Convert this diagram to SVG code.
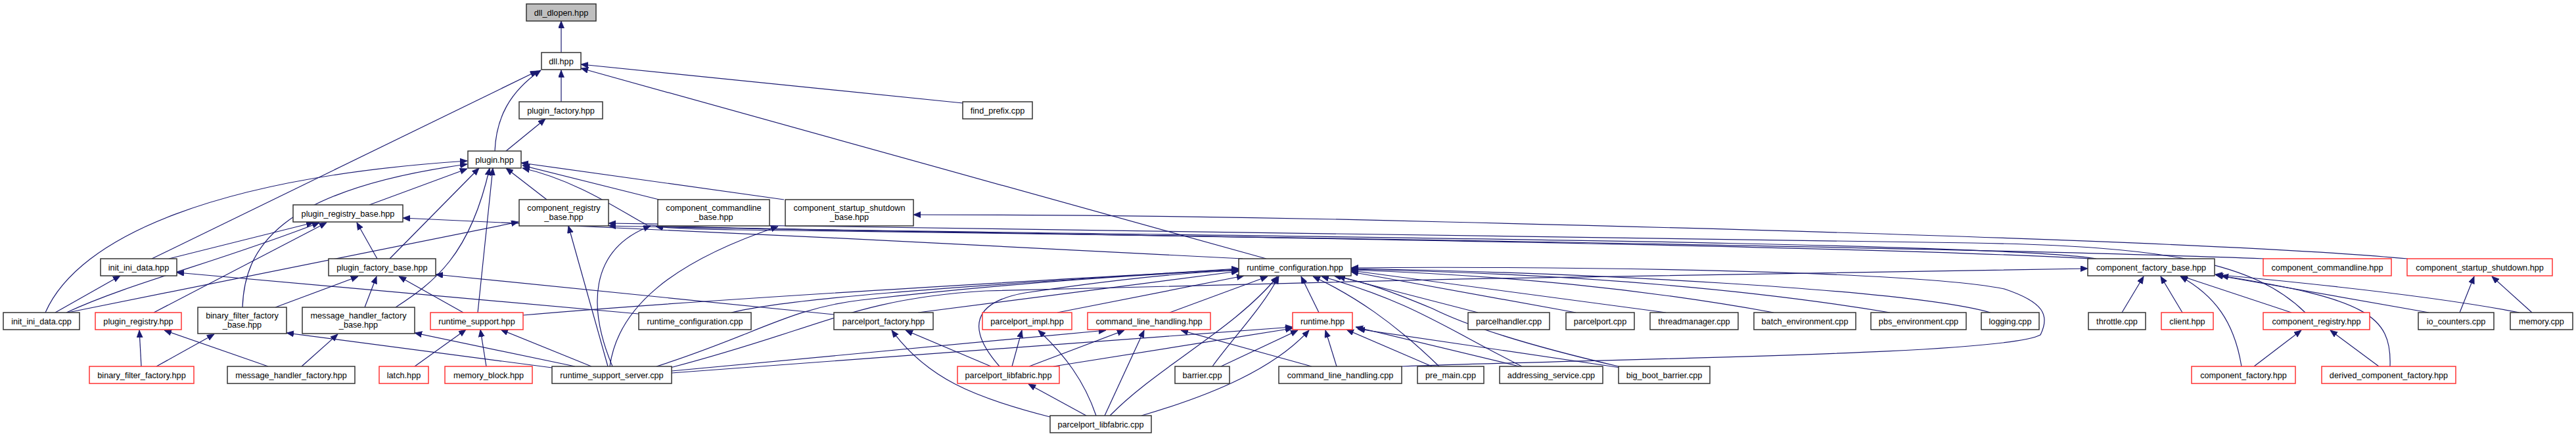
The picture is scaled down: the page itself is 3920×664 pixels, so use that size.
<svg xmlns="http://www.w3.org/2000/svg" width="3920" height="664" viewBox="0 0 3920 664">
<style>
.node rect{fill:#fff;stroke:#333;stroke-width:1.5}
.node.red rect{stroke:#f33}
.node.root rect{fill:#bfbfbf}
.node text{font-family:"Liberation Sans",Arial,sans-serif;font-size:12.7px;fill:#000;text-anchor:middle}
#edges path{fill:none;stroke:#191970;stroke-width:1.2;marker-end:url(#ah)}
</style>
<defs>
<marker id="ah" markerUnits="userSpaceOnUse" markerWidth="13" markerHeight="11" refX="11" refY="4.5" orient="auto">
<path d="M0,0 L11,4.5 L0,9 z" fill="#191970" stroke="#191970" stroke-width="0.8"/>
</marker>
</defs>
<rect width="3920" height="664" fill="#fff"/>
<g id="edges">
<path d="M854,80 L854,32"/>
<path d="M854,155 L854,107"/>
<path d="M753,230 C755,180 775,140 823,107"/>
<path d="M231,394 L818,108"/>
<path d="M1465,157 L884,98"/>
<path d="M1927,394 L884,104"/>
<path d="M770,230 L830,181"/>
<path d="M69,476 C120,360 330,270 711,245"/>
<path d="M369,468 C372,380 420,290 711,250"/>
<path d="M562,312 L711,257"/>
<path d="M593,394 L729,256"/>
<path d="M602,468 C660,430 715,390 745,256"/>
<path d="M727,476 L750,256"/>
<path d="M832,304 L770,256"/>
<path d="M1003,304 L795,252"/>
<path d="M1193,304 L793,248"/>
<path d="M3190,394 C3000,362 1200,356 985,343 C950,325 880,275 795,256"/>
<path d="M257,394 L477,339"/>
<path d="M101,476 C200,430 330,400 486,339"/>
<path d="M234,476 L497,339"/>
<path d="M574,394 L543,339"/>
<path d="M1891,394 C1500,372 1000,350 613,332"/>
<path d="M84,476 L183,420"/>
<path d="M972,478 L269,415"/>
<path d="M1269,479 L663,418"/>
<path d="M419,468 L545,421"/>
<path d="M555,468 L573,421"/>
<path d="M705,476 L607,421"/>
<path d="M103,476 L789,338"/>
<path d="M215,558 L212,503"/>
<path d="M238,558 L326,509"/>
<path d="M408,558 L250,503"/>
<path d="M459,558 L514,509"/>
<path d="M840,560 L436,507"/>
<path d="M875,558 L631,507"/>
<path d="M631,558 L709,502"/>
<path d="M740,558 L731,502"/>
<path d="M900,558 L762,502"/>
<path d="M925,558 L865,344"/>
<path d="M932,558 C895,470 895,380 990,344"/>
<path d="M928,558 C940,470 1020,400 1184,345"/>
<path d="M999,558 C1150,510 1200,470 1310,457 C1500,435 1700,420 1885,411"/>
<path d="M1020,560 C1250,500 1300,455 1500,443 C2000,428 2800,412 3177,409"/>
<path d="M1022,565 L1683,503"/>
<path d="M1022,568 L1967,498"/>
<path d="M1397,476 L1885,413"/>
<path d="M1609,476 L1893,420"/>
<path d="M1780,476 L1929,421"/>
<path d="M1113,476 C1200,455 1400,440 1885,409"/>
<path d="M796,480 C1000,462 1400,437 1885,410"/>
<path d="M1521,558 C1470,500 1480,460 1560,446 C1700,425 1800,415 1885,412"/>
<path d="M1508,558 L1378,503"/>
<path d="M1540,558 L1555,503"/>
<path d="M1566,558 L1711,503"/>
<path d="M1603,558 L1967,500"/>
<path d="M1598,635 C1480,605 1410,575 1357,503"/>
<path d="M1653,633 L1565,585"/>
<path d="M1668,633 C1650,580 1620,540 1580,503"/>
<path d="M1681,633 L1741,503"/>
<path d="M1689,633 C1760,560 1880,500 1944,421"/>
<path d="M1737,633 C1850,600 1940,560 1992,503"/>
<path d="M1845,558 C1880,510 1920,470 1946,421"/>
<path d="M1858,558 L1975,503"/>
<path d="M1996,558 L1797,503"/>
<path d="M2034,558 L2017,503"/>
<path d="M2133,558 C2500,545 3050,540 3105,510 C3120,480 3110,460 3050,440 C2900,410 2300,405 2056,408"/>
<path d="M2179,558 L2049,502"/>
<path d="M2190,558 C2120,490 2060,450 1998,421"/>
<path d="M2312,558 L2063,498"/>
<path d="M2316,558 C2200,500 2150,460 2011,421"/>
<path d="M2463,558 C2300,520 2220,490 2180,470 C2120,445 2080,430 2030,420"/>
<path d="M2466,560 L2066,501"/>
<path d="M2007,476 L1980,421"/>
<path d="M2249,476 L2036,421"/>
<path d="M2398,476 L2056,414"/>
<path d="M2535,476 L2056,412"/>
<path d="M2699,476 C2500,440 2300,420 2056,411"/>
<path d="M2876,476 C2600,430 2300,415 2056,410"/>
<path d="M3029,476 C2900,440 2400,415 2056,409"/>
<path d="M3229,476 L3262,421"/>
<path d="M3321,476 L3288,421"/>
<path d="M3487,476 L3318,420"/>
<path d="M3411,558 C3400,490 3370,450 3318,421"/>
<path d="M3696,476 L3372,419"/>
<path d="M3834,476 C3700,450 3500,430 3371,418"/>
<path d="M3637,558 C3640,480 3600,455 3380,420"/>
<path d="M3430,558 L3502,503"/>
<path d="M3620,558 L3546,503"/>
<path d="M3743,476 L3765,421"/>
<path d="M3853,476 L3792,421"/>
<path d="M3508,476 C3430,400 3300,375 3000,370 C2000,360 1200,350 926,340"/>
<path d="M3445,394 C3000,376 1600,356 1120,350 C1060,349 1020,348 998,345"/>
<path d="M3664,394 C3400,370 2700,350 2200,338 C1900,330 1600,327 1390,327"/>
<path d="M3180,394 C2800,372 1500,356 926,344"/>
</g>
<g id="n_dll_dlopen" class="node root"><rect x="801" y="6" width="106" height="26"/><text x="854" y="23.5">dll_dlopen.hpp</text></g>
<g id="n_dll" class="node"><rect x="824" y="80" width="60" height="26"/><text x="854" y="97.5">dll.hpp</text></g>
<g id="n_plugin_factory" class="node"><rect x="790" y="155" width="127" height="26"/><text x="853.5" y="172.5">plugin_factory.hpp</text></g>
<g id="n_find_prefix" class="node"><rect x="1465" y="155" width="106" height="26"/><text x="1518" y="172.5">find_prefix.cpp</text></g>
<g id="n_plugin" class="node"><rect x="712" y="230" width="81" height="26"/><text x="752.5" y="247.5">plugin.hpp</text></g>
<g id="n_plugin_registry_base" class="node"><rect x="446" y="312" width="167" height="26"/><text x="529.5" y="329.5">plugin_registry_base.hpp</text></g>
<g id="n_component_registry_base" class="node"><rect x="790" y="304" width="136" height="40"/><text x="858" y="320.5">component_registry</text><text x="858" y="334.5">_base.hpp</text></g>
<g id="n_component_commandline_base" class="node"><rect x="1001" y="304" width="170" height="40"/><text x="1086" y="320.5">component_commandline</text><text x="1086" y="334.5">_base.hpp</text></g>
<g id="n_component_startup_shutdown_base" class="node"><rect x="1195" y="304" width="195" height="40"/><text x="1292.5" y="320.5">component_startup_shutdown</text><text x="1292.5" y="334.5">_base.hpp</text></g>
<g id="n_init_ini_data_hpp" class="node"><rect x="153" y="394" width="116" height="26"/><text x="211" y="411.5">init_ini_data.hpp</text></g>
<g id="n_plugin_factory_base" class="node"><rect x="500" y="394" width="163" height="26"/><text x="581.5" y="411.5">plugin_factory_base.hpp</text></g>
<g id="n_runtime_configuration_hpp" class="node"><rect x="1885" y="394" width="171" height="26"/><text x="1970.5" y="411.5">runtime_configuration.hpp</text></g>
<g id="n_component_factory_base" class="node"><rect x="3177" y="394" width="193" height="26"/><text x="3273.5" y="411.5">component_factory_base.hpp</text></g>
<g id="n_component_commandline" class="node red"><rect x="3444" y="394" width="195" height="26"/><text x="3541.5" y="411.5">component_commandline.hpp</text></g>
<g id="n_component_startup_shutdown" class="node red"><rect x="3663" y="394" width="221" height="26"/><text x="3773.5" y="411.5">component_startup_shutdown.hpp</text></g>
<g id="n_init_ini_data_cpp" class="node"><rect x="5" y="476" width="116" height="26"/><text x="63" y="493.5">init_ini_data.cpp</text></g>
<g id="n_plugin_registry" class="node red"><rect x="145" y="476" width="131" height="26"/><text x="210.5" y="493.5">plugin_registry.hpp</text></g>
<g id="n_binary_filter_factory_base" class="node"><rect x="301" y="468" width="135" height="40"/><text x="368.5" y="484.5">binary_filter_factory</text><text x="368.5" y="498.5">_base.hpp</text></g>
<g id="n_message_handler_factory_base" class="node"><rect x="460" y="468" width="171" height="40"/><text x="545.5" y="484.5">message_handler_factory</text><text x="545.5" y="498.5">_base.hpp</text></g>
<g id="n_runtime_support" class="node red"><rect x="655" y="476" width="141" height="26"/><text x="725.5" y="493.5">runtime_support.hpp</text></g>
<g id="n_runtime_configuration_cpp" class="node"><rect x="972" y="476" width="171" height="26"/><text x="1057.5" y="493.5">runtime_configuration.cpp</text></g>
<g id="n_parcelport_factory" class="node"><rect x="1269" y="476" width="151" height="26"/><text x="1344.5" y="493.5">parcelport_factory.hpp</text></g>
<g id="n_parcelport_impl" class="node red"><rect x="1495" y="476" width="136" height="26"/><text x="1563" y="493.5">parcelport_impl.hpp</text></g>
<g id="n_command_line_handling_hpp" class="node red"><rect x="1655" y="476" width="187" height="26"/><text x="1748.5" y="493.5">command_line_handling.hpp</text></g>
<g id="n_runtime" class="node red"><rect x="1967" y="476" width="91" height="26"/><text x="2012.5" y="493.5">runtime.hpp</text></g>
<g id="n_parcelhandler" class="node"><rect x="2234" y="476" width="124" height="26"/><text x="2296" y="493.5">parcelhandler.cpp</text></g>
<g id="n_parcelport" class="node"><rect x="2383" y="476" width="104" height="26"/><text x="2435" y="493.5">parcelport.cpp</text></g>
<g id="n_threadmanager" class="node"><rect x="2511" y="476" width="134" height="26"/><text x="2578" y="493.5">threadmanager.cpp</text></g>
<g id="n_batch_environment" class="node"><rect x="2669" y="476" width="155" height="26"/><text x="2746.5" y="493.5">batch_environment.cpp</text></g>
<g id="n_pbs_environment" class="node"><rect x="2847" y="476" width="145" height="26"/><text x="2919.5" y="493.5">pbs_environment.cpp</text></g>
<g id="n_logging" class="node"><rect x="3015" y="476" width="88" height="26"/><text x="3059" y="493.5">logging.cpp</text></g>
<g id="n_throttle" class="node"><rect x="3178" y="476" width="87" height="26"/><text x="3221.5" y="493.5">throttle.cpp</text></g>
<g id="n_client" class="node red"><rect x="3289" y="476" width="79" height="26"/><text x="3328.5" y="493.5">client.hpp</text></g>
<g id="n_component_registry" class="node red"><rect x="3444" y="476" width="162" height="26"/><text x="3525" y="493.5">component_registry.hpp</text></g>
<g id="n_io_counters" class="node"><rect x="3680" y="476" width="115" height="26"/><text x="3737.5" y="493.5">io_counters.cpp</text></g>
<g id="n_memory_cpp" class="node"><rect x="3820" y="476" width="95" height="26"/><text x="3867.5" y="493.5">memory.cpp</text></g>
<g id="n_binary_filter_factory" class="node red"><rect x="136" y="558" width="159" height="26"/><text x="215.5" y="575.5">binary_filter_factory.hpp</text></g>
<g id="n_message_handler_factory" class="node"><rect x="346" y="558" width="194" height="26"/><text x="443" y="575.5">message_handler_factory.hpp</text></g>
<g id="n_latch" class="node red"><rect x="577" y="558" width="75" height="26"/><text x="614.5" y="575.5">latch.hpp</text></g>
<g id="n_memory_block" class="node red"><rect x="677" y="558" width="133" height="26"/><text x="743.5" y="575.5">memory_block.hpp</text></g>
<g id="n_runtime_support_server" class="node"><rect x="840" y="558" width="182" height="26"/><text x="931" y="575.5">runtime_support_server.cpp</text></g>
<g id="n_parcelport_libfabric_hpp" class="node red"><rect x="1457" y="558" width="155" height="26"/><text x="1534.5" y="575.5">parcelport_libfabric.hpp</text></g>
<g id="n_barrier" class="node"><rect x="1788" y="558" width="83" height="26"/><text x="1829.5" y="575.5">barrier.cpp</text></g>
<g id="n_command_line_handling_cpp" class="node"><rect x="1946" y="558" width="187" height="26"/><text x="2039.5" y="575.5">command_line_handling.cpp</text></g>
<g id="n_pre_main" class="node"><rect x="2157" y="558" width="101" height="26"/><text x="2207.5" y="575.5">pre_main.cpp</text></g>
<g id="n_addressing_service" class="node"><rect x="2282" y="558" width="157" height="26"/><text x="2360.5" y="575.5">addressing_service.cpp</text></g>
<g id="n_big_boot_barrier" class="node"><rect x="2463" y="558" width="139" height="26"/><text x="2532.5" y="575.5">big_boot_barrier.cpp</text></g>
<g id="n_component_factory" class="node red"><rect x="3335" y="558" width="158" height="26"/><text x="3414" y="575.5">component_factory.hpp</text></g>
<g id="n_derived_component_factory" class="node red"><rect x="3533" y="558" width="204" height="26"/><text x="3635" y="575.5">derived_component_factory.hpp</text></g>
<g id="n_parcelport_libfabric_cpp" class="node"><rect x="1598" y="633" width="154" height="26"/><text x="1675" y="650.5">parcelport_libfabric.cpp</text></g>
</svg>
